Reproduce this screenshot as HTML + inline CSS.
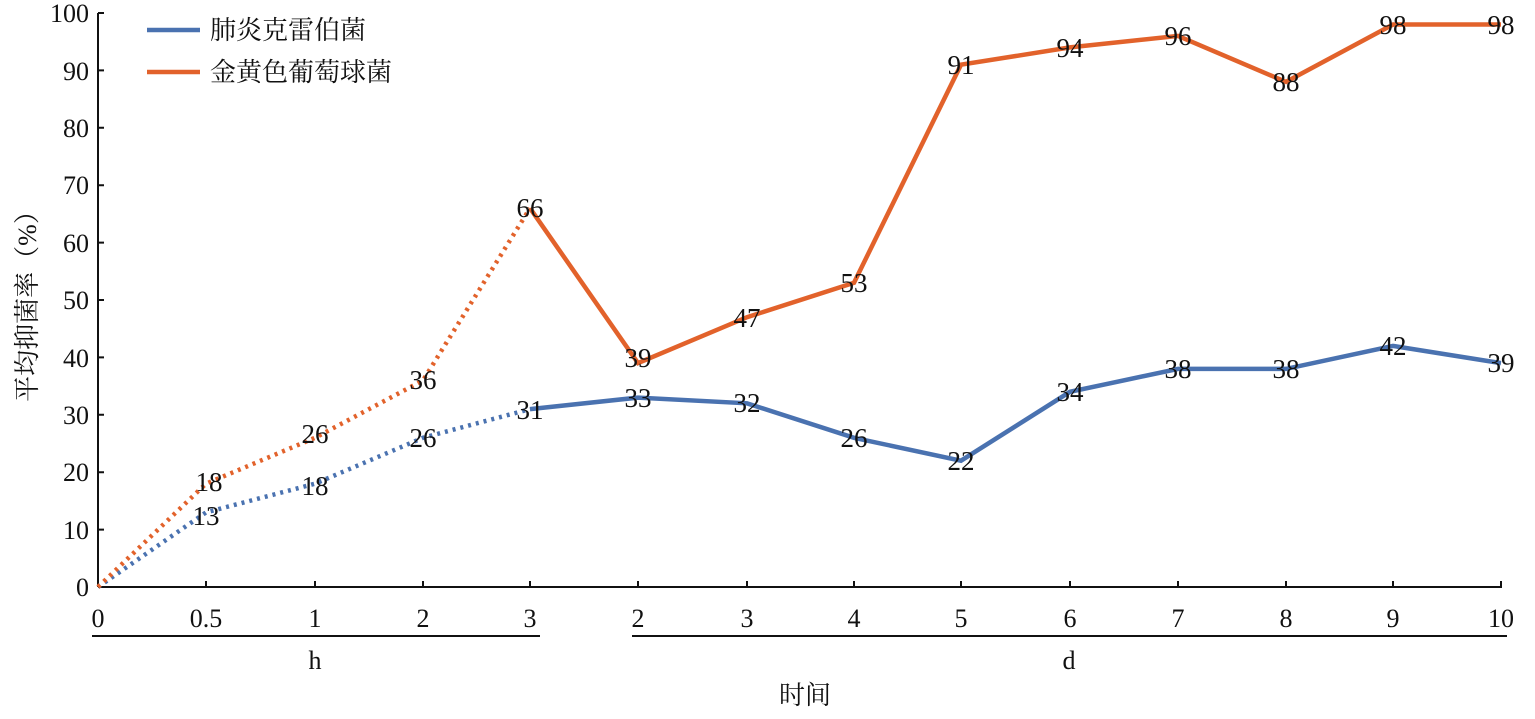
<!DOCTYPE html>
<html><head><meta charset="utf-8"><style>
body{margin:0;background:#fff}
text{font-family:"Liberation Serif","Noto Serif CJK SC",serif;fill:#111}
</style></head><body>
<svg width="1535" height="714" viewBox="0 0 1535 714" xmlns="http://www.w3.org/2000/svg">
<g stroke="#111" stroke-width="2" fill="none">
<line x1="98" y1="13" x2="98" y2="587"/>
<line x1="98" y1="587" x2="1502" y2="587"/>
<path d="M98 13h6M98 70.4h6M98 127.8h6M98 185.2h6M98 242.6h6M98 300h6M98 357.4h6M98 414.8h6M98 472.2h6M98 529.6h6"/>
<path d="M206 587v-6M315 587v-6M423 587v-6M530 587v-6M638 587v-6M747 587v-6M854 587v-6M961 587v-6M1070 587v-6M1178 587v-6M1286 587v-6M1393 587v-6M1501 587v-6"/>
<line x1="92" y1="636" x2="540" y2="636"/>
<line x1="632" y1="636" x2="1507" y2="636"/>
</g>
<g font-size="26" text-anchor="end">
<text x="89" y="596">0</text><text x="89" y="539">10</text><text x="89" y="481">20</text><text x="89" y="424">30</text><text x="89" y="367">40</text><text x="89" y="309">50</text><text x="89" y="252">60</text><text x="89" y="194">70</text><text x="89" y="137">80</text><text x="89" y="80">90</text><text x="89" y="22">100</text>
</g>
<g font-size="26" text-anchor="middle">
<text x="98" y="627">0</text><text x="206" y="627">0.5</text><text x="315" y="627">1</text><text x="423" y="627">2</text><text x="530" y="627">3</text><text x="638" y="627">2</text><text x="747" y="627">3</text><text x="854" y="627">4</text><text x="961" y="627">5</text><text x="1070" y="627">6</text><text x="1178" y="627">7</text><text x="1286" y="627">8</text><text x="1393" y="627">9</text><text x="1501" y="627">10</text>
<text x="315" y="669">h</text><text x="1069" y="669">d</text>
<text x="805" y="704">时间</text>
<text transform="translate(36,300) rotate(-90)">平均抑菌率（%）</text>
</g>
<g fill="none" stroke-width="4.5">
<polyline stroke="#4a72b0" stroke-dasharray="3 5" points="98,587 206,512.4 315,483.7 423,437.8 530,409.1"/>
<polyline stroke="#e2622b" stroke-dasharray="3 5" points="98,587 206,483.7 315,437.8 423,380.4 530,208.2"/>
<polyline stroke="#4a72b0" points="530,409.1 638,397.6 747,403.3 854,437.8 961,460.7 1070,391.8 1178,368.9 1286,368.9 1393,345.9 1501,363.1"/>
<polyline stroke="#e2622b" points="530,208.2 638,363.1 747,317.2 854,282.8 961,64.7 1070,47.4 1178,35.9 1286,81.9 1393,24.5 1501,24.5"/>
<line x1="147" y1="30" x2="200" y2="30" stroke="#4a72b0"/>
<line x1="147" y1="72" x2="200" y2="72" stroke="#e2622b"/>
</g>
<g font-size="26">
<text x="210" y="39" font-family="Noto Sans CJK SC,sans-serif">肺炎克雷伯菌</text>
<text x="210" y="81" font-family="Noto Sans CJK SC,sans-serif">金黄色葡萄球菌</text>
</g>
<g font-size="27" text-anchor="middle">
<text x="206" y="525">13</text><text x="315" y="495">18</text><text x="423" y="447">26</text><text x="530" y="419">31</text><text x="638" y="407">33</text><text x="747" y="412">32</text><text x="854" y="447">26</text><text x="961" y="470">22</text><text x="1070" y="401">34</text><text x="1178" y="378">38</text><text x="1286" y="378">38</text><text x="1393" y="355">42</text><text x="1501" y="372">39</text>
<text x="209" y="491">18</text><text x="315" y="443">26</text><text x="423" y="389">36</text><text x="530" y="217">66</text><text x="638" y="367">39</text><text x="747" y="327">47</text><text x="854" y="292">53</text><text x="961" y="74">91</text><text x="1070" y="57">94</text><text x="1178" y="45">96</text><text x="1286" y="91">88</text><text x="1393" y="34">98</text><text x="1501" y="34">98</text>
</g>
</svg>
</body></html>
